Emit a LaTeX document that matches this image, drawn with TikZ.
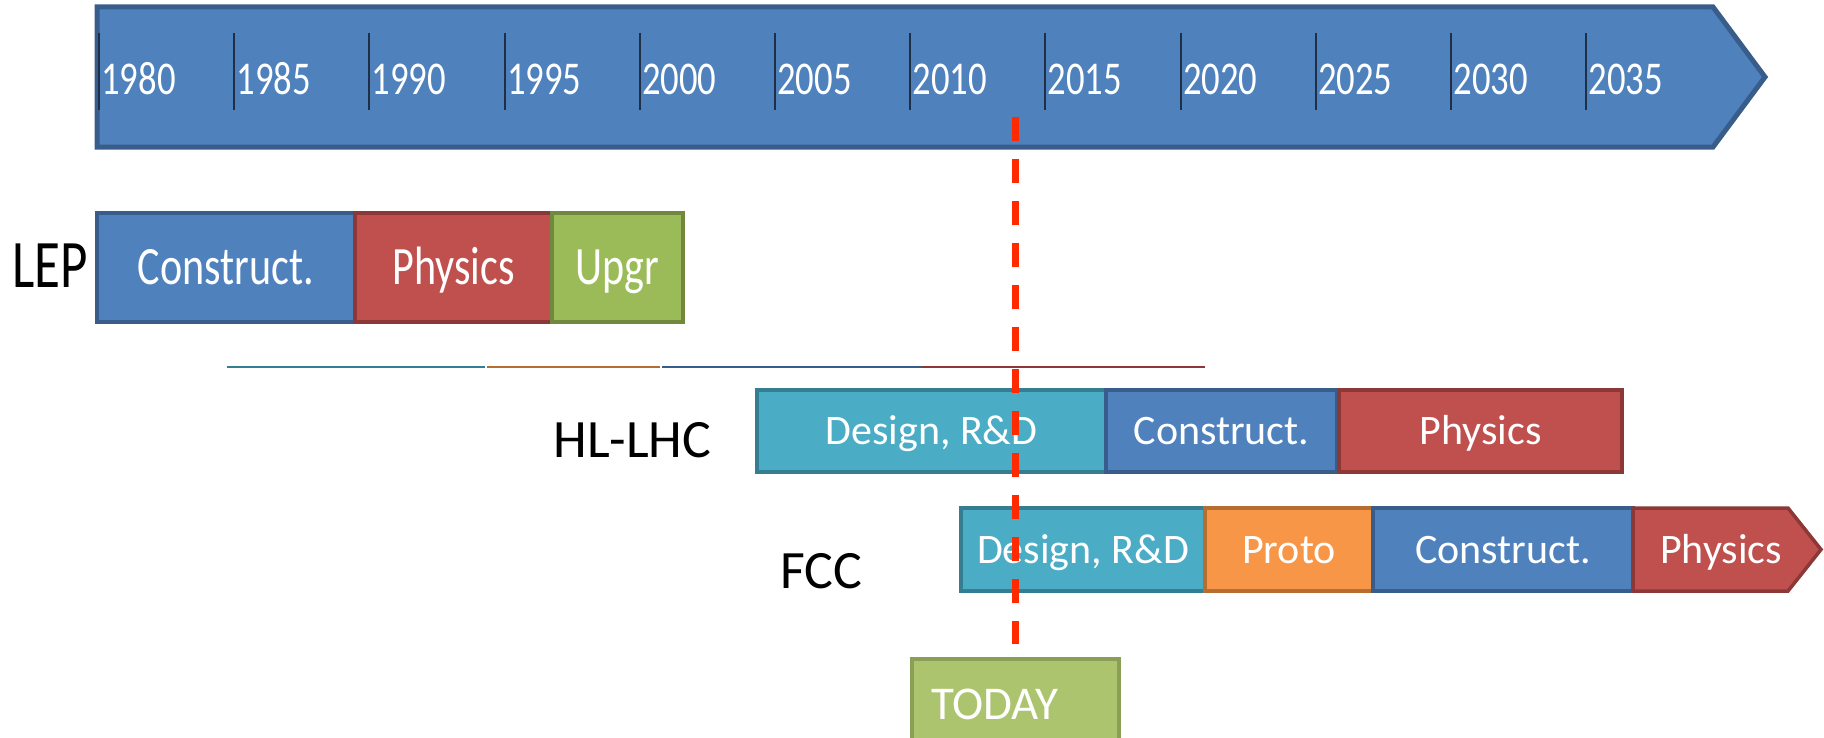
\documentclass[tikz,border=0pt]{standalone}
\usepackage{fontspec}
\setmainfont{Carlito}
\newfontfamily\narrowfont[FakeStretch=0.78]{Carlito}
\usepackage{xcolor}
\usetikzlibrary{positioning}
\definecolor{cblue}{HTML}{4F81BD}
\definecolor{cblueD}{HTML}{385D8A}
\definecolor{cred}{HTML}{C0504D}
\definecolor{credD}{HTML}{8C3836}
\definecolor{cgreen}{HTML}{9BBB59}
\definecolor{cgreenD}{HTML}{71893F}
\definecolor{caqua}{HTML}{4BACC6}
\definecolor{caquaD}{HTML}{357D91}
\definecolor{corange}{HTML}{F79646}
\definecolor{corangeD}{HTML}{B66D31}
\definecolor{ctoday}{HTML}{ACC46E}
\definecolor{ctodayD}{HTML}{8A9E55}
\definecolor{ctick}{HTML}{1F2F45}
\definecolor{nowred}{HTML}{FF2A00}
\tikzset{
  % Fasi dei progetti
  phase/.style={draw,line width=1.75pt,inner sep=0pt,outer sep=0pt,text=white,text depth=0pt},
  phase lep/.style={phase,minimum height=54.5pt,text height=17.4pt,font=\narrowfont\fontsize{27}{27}\selectfont},
  phase new/.style={phase,minimum height=41.5pt,text height=13.5pt,font=\fontsize{21}{21}\selectfont},
  construct/.style={fill=cblue,draw=cblueD},
  physics/.style={fill=cred,draw=credD},
  upgrade/.style={fill=cgreen,draw=cgreenD},
  design/.style={fill=caqua,draw=caquaD},
  proto/.style={fill=corange,draw=corangeD},
  % Asse del tempo
  timebar/.style={fill=cblue,draw=cblueD,line width=2.5pt,line join=miter},
  tick/.style={draw=ctick,line width=1pt},
  year/.style={inner sep=0pt,text=white,font=\narrowfont\fontsize{23.5}{23.5}\selectfont},
  project/.style={inner sep=0pt,text=black},
  nowline/.style={draw=nowred,line width=3.5pt,dash pattern=on 12pt off 9pt,shorten >=7.5pt}
}
\begin{document}
\begin{tikzpicture}[x=0.5pt,y=-0.5pt]
  \useasboundingbox (0,0) rectangle (1824,738);
  % Asse
  \draw[timebar] (97,7) -- (1713,7) -- (1765,77) -- (1713,147) -- (97,147) -- cycle;
  \foreach \yr [count=\i from 0] in {1980,1985,...,2035} {
    \draw[tick] (99+135.2*\i,33) -- (99+135.2*\i,110);
    \node[year,anchor=base west] (y\yr) at (101+135.2*\i,95) {\yr};
  }
  % LEP
  \node[project,anchor=base east,font=\narrowfont\fontsize{34}{34}\selectfont] (lep) at (88,287) {LEP};
  \node[phase lep,construct,minimum width=129pt,anchor=north west] (lepC) at (97,213) {Construct.};
  \node[phase lep,physics,minimum width=98.5pt,right=0pt of lepC] (lepP) {Physics};
  \node[phase lep,upgrade,minimum width=65.5pt,right=0pt of lepP] (lepU) {Upgr};
  \draw[line width=1pt,draw=caquaD] (227,367) -- (485,367);
  \draw[line width=1pt,draw=corangeD] (487,367) -- (660,367);
  \draw[line width=1pt,draw=cblueD] (662,367) -- (921,367);
  \draw[line width=1pt,draw=credD] (921,367) -- (1205,367);
  % HL-LHC
  \node[project,anchor=base west,font=\fontsize{27}{27}\selectfont] (hl) at (553,457) {HL-LHC};
  \node[phase new,design,minimum height=41pt,minimum width=174.5pt,anchor=north west] (hlD) at (757,390) {Design, R\&D};
  \node[phase new,construct,minimum height=41pt,minimum width=115.5pt,right=0pt of hlD] (hlC) {Construct.};
  \node[phase new,physics,minimum height=41pt,minimum width=141.5pt,right=1pt of hlC] (hlP) {Physics};
  % FCC
  \node[project,anchor=base west,font=\fontsize{27}{27}\selectfont] (fcc) at (780,588) {FCC};
  \node[phase new,design,minimum width=122pt,anchor=north west] (fccD) at (961,508) {Design, R\&D};
  \node[phase new,proto,minimum width=84pt,right=0pt of fccD] (fccR) {Proto};
  \node[phase new,construct,minimum width=130pt,right=0pt of fccR] (fccC) {Construct.};
  \draw[physics,line width=1.75pt,line join=miter] (fccC.north east) -- ++(155,0) -- ++(33,41.5)
    -- ++(-33,41.5) -- (fccC.south east) -- cycle;
  \node[inner sep=0pt,text=white,text height=13.5pt,text depth=0pt,font=\fontsize{21}{21}\selectfont]
    (fccP) at ([xshift=44pt]fccC.east) {Physics};
  % Oggi
  \node[fill=ctoday,draw=ctodayD,line width=1.75pt,inner xsep=9.5pt,inner ysep=0pt,outer sep=0pt,
    text width=84.5pt,align=left,minimum height=45.5pt,text height=15.1pt,text depth=0pt,
    text=white,font=\fontsize{23.5}{23.5}\selectfont,anchor=north] (today) at (1015.5,659) {TODAY};
  \coordinate (now) at (1015.5,117);
  \draw[nowline] (now) -- (today.north);
\end{tikzpicture}
\end{document}
